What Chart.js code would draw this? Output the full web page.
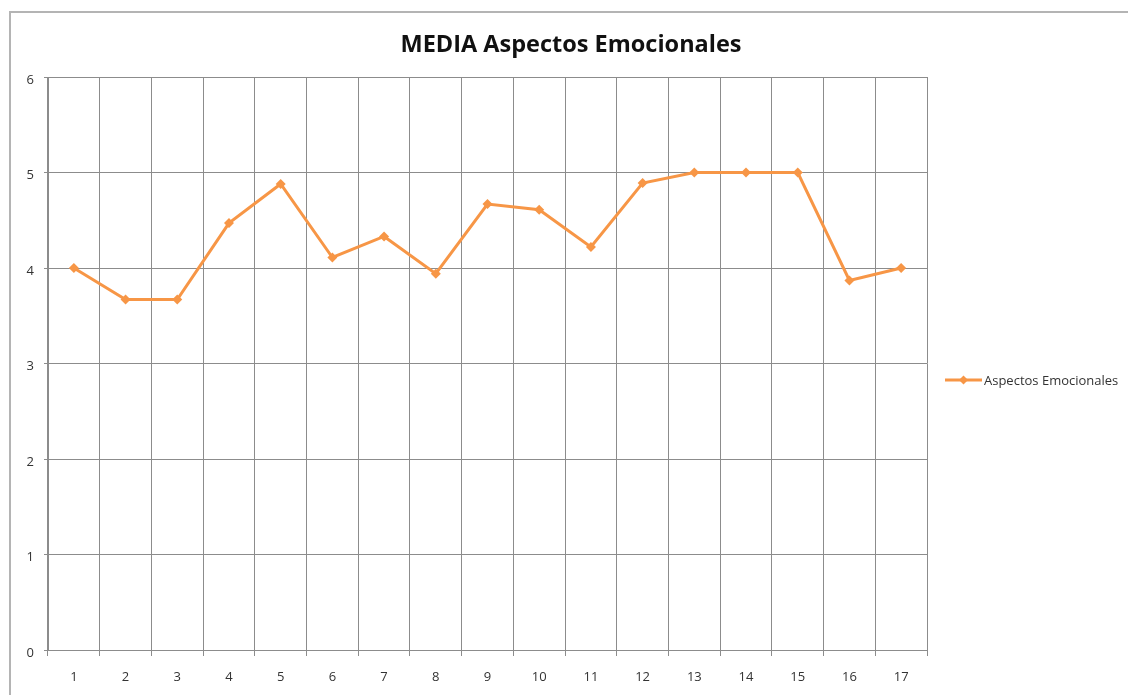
<!DOCTYPE html>
<html>
<head>
<meta charset="utf-8">
<script src="https://cdn.jsdelivr.net/npm/chart.js@4.4.1/dist/chart.umd.min.js"></script>
<style>
  html, body { margin: 0; padding: 0; background: #fff; }
  #wrap { position: relative; width: 1128px; height: 695px; overflow: hidden; }
  #frame { position: absolute; left: 9px; top: 11px; width: 1200px; height: 800px;
           border-top: 2px solid #b4b4b4; border-left: 2px solid #b4b4b4; box-sizing: border-box; }
  canvas { position: absolute; left: 0; top: 0; }
</style>
</head>
<body>
<div id="wrap">
  <div id="frame"></div>
  <canvas id="c" width="1128" height="695"></canvas>
</div>
<script>
// Mean scores per item
const categories = ['1','2','3','4','5','6','7','8','9','10','11','12','13','14','15','16','17'];
const mediaEmocional = [4.00, 3.67, 3.67, 4.47, 4.88, 4.11, 4.33, 3.94, 4.67, 4.61, 4.22, 4.89, 5.00, 5.00, 5.00, 3.87, 4.00];
const yTicks = [0, 1, 2, 3, 4, 5, 6];
const seriesName = 'Aspectos Emocionales';
const chartTitle = 'MEDIA Aspectos Emocionales';

const ORANGE = '#f79646';
const GRID = '#8c8c8c';
const FONT = "'Open Sans', 'Liberation Sans', sans-serif";

// Title centred over the whole frame
const frameTitle = {
  id: 'frameTitle',
  afterDraw(chart) {
    const ctx = chart.ctx;
    ctx.save();
    ctx.fillStyle = '#111';
    ctx.font = 'bold 23.5px ' + FONT;
    ctx.textAlign = 'center';
    ctx.textBaseline = 'middle';
    ctx.fillText(chartTitle, 571, 45);
    ctx.restore();
  }
};

// Legend drawn to the right of the plot: line with a diamond marker, then the label
const sideLegend = {
  id: 'sideLegend',
  afterDraw(chart) {
    const ctx = chart.ctx;
    const a = chart.chartArea;
    const x0 = a.right + 18, x1 = x0 + 37;
    const y = 380;
    ctx.save();
    ctx.strokeStyle = ORANGE;
    ctx.lineWidth = 3;
    ctx.beginPath(); ctx.moveTo(x0, y); ctx.lineTo(x1, y); ctx.stroke();
    const cx = (x0 + x1) / 2, r = 4.5;
    ctx.fillStyle = ORANGE;
    ctx.beginPath();
    ctx.moveTo(cx, y - r); ctx.lineTo(cx + r, y); ctx.lineTo(cx, y + r); ctx.lineTo(cx - r, y);
    ctx.closePath(); ctx.fill();
    ctx.fillStyle = '#333';
    ctx.font = '13px ' + FONT;
    ctx.textBaseline = 'middle';
    ctx.textAlign = 'left';
    ctx.fillText(chart.data.datasets[0].label, x1 + 2, y + 1);
    ctx.restore();
  }
};

new Chart(document.getElementById('c'), {
  type: 'line',
  data: {
    labels: categories,
    datasets: [{
      label: seriesName,
      data: mediaEmocional,
      borderColor: ORANGE,
      backgroundColor: ORANGE,
      borderWidth: 3,
      pointStyle: 'rectRot',
      pointRadius: 5,
      pointHoverRadius: 5,
      pointBorderWidth: 0,
      tension: 0
    }]
  },
  options: {
    responsive: false,
    animation: false,
    layout: { padding: { left: 9, right: 201, top: 77, bottom: 0 } },
    plugins: {
      legend: { display: false },
      tooltip: { enabled: false },
      title: { display: false }
    },
    scales: {
      x: {
        offset: true,
        grid: { offset: true, color: GRID, lineWidth: 1, tickLength: 6, drawTicks: true },
        border: { color: GRID, width: 1 },
        ticks: { color: '#333', font: { family: FONT, size: 13 }, padding: 13, maxRotation: 0 },
        afterFit(s) { s.height = 45; }
      },
      y: {
        min: 0, max: 6,
        afterBuildTicks(s) { s.ticks = yTicks.map(v => ({ value: v })); },
        grid: { color: GRID, lineWidth: 1, tickLength: 4 },
        border: { color: GRID, width: 1 },
        ticks: { color: '#333', font: { family: FONT, size: 13 }, padding: 10, labelOffset: 3 },
        afterFit(s) { s.width = 39; }
      }
    }
  },
  plugins: [frameTitle, sideLegend]
});
</script>
</body>
</html>
